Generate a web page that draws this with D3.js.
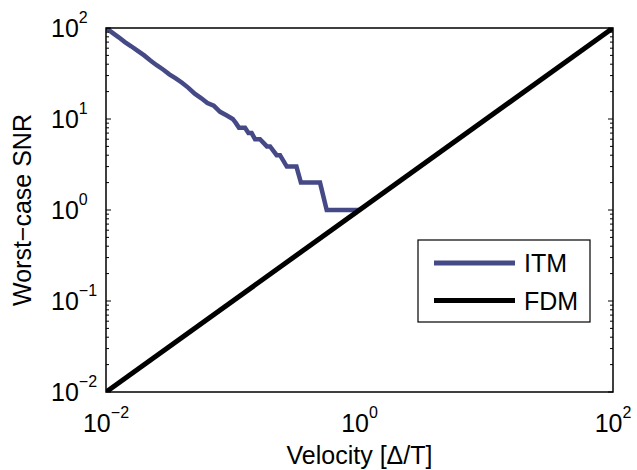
<!DOCTYPE html>
<html>
<head>
<meta charset="utf-8">
<script src="https://cdn.jsdelivr.net/npm/d3@7"></script>
<style>
  body { margin: 0; background: #fff; }
  svg { display: block; font-family: "Liberation Sans", Arial, Helvetica, sans-serif; }
</style>
</head>
<body>
<svg id="chart"></svg>
<script>
// ITM curve (staircase near 1)
const itmVelocity = [0.01, 0.0112, 0.0126, 0.0141, 0.0158, 0.0178, 0.02, 0.0224, 0.0251, 0.0282,
  0.0316, 0.0355, 0.0398, 0.0447, 0.0501, 0.0562, 0.0631, 0.0708, 0.0794, 0.0891,
  0.1, 0.106, 0.112, 0.118, 0.125, 0.133, 0.141, 0.15, 0.158, 0.164,
  0.186, 0.197, 0.222, 0.236, 0.267, 0.29, 0.318, 0.345, 0.4, 0.45,
  0.488, 0.551, 0.7, 0.85, 1];
const itmSNR = [100, 89, 79, 70, 63, 56, 50, 44, 39, 35,
  31, 28, 25, 22, 19, 17, 15, 14, 12, 11,
  10, 9, 8, 8, 8, 7, 7, 6, 6, 6,
  5, 5, 4, 4, 3, 3, 3, 2, 2, 2,
  2, 1, 1, 1, 1];

// FDM is a straight line on log-log
const fdmVelocity = [0.01, 100];
const fdmSNR = [0.01, 100];

const xTicks = [0.01, 1, 100];
const xTickExp = ['\u22122', '0', '2'];
const yTicks = [0.01, 0.1, 1, 10, 100];
const yTickExp = ['\u22122', '\u22121', '0', '1', '2'];

const seriesNames = ['ITM', 'FDM'];
const seriesColors = ['#454a87', '#000000'];

const width = 637, height = 470;
const margin = { top: 28, right: 24, bottom: 78, left: 106 };
const chartWidth = width - margin.left - margin.right;
const chartHeight = height - margin.top - margin.bottom;

const svg = d3.select('#chart')
  .attr('width', width)
  .attr('height', height);

const x = d3.scaleLog().domain([0.01, 100]).range([0, chartWidth]);
const y = d3.scaleLog().domain([0.01, 100]).range([chartHeight, 0]);

const g = svg.append('g')
  .attr('transform', `translate(${margin.left},${margin.top})`);

g.append('clipPath').attr('id', 'clip')
  .append('rect').attr('width', chartWidth).attr('height', chartHeight);

const line = d3.line()
  .x(d => x(d[0]))
  .y(d => y(d[1]));

const plot = g.append('g').attr('clip-path', 'url(#clip)');

plot.append('path')
  .datum(itmVelocity.map((v, i) => [v, itmSNR[i]]))
  .attr('fill', 'none')
  .attr('stroke', seriesColors[0])
  .attr('stroke-width', 4.5)
  .attr('stroke-linejoin', 'miter')
  .attr('d', line);

plot.append('path')
  .datum(fdmVelocity.map((v, i) => [v, fdmSNR[i]]))
  .attr('fill', 'none')
  .attr('stroke', seriesColors[1])
  .attr('stroke-width', 5)
  .attr('d', line);

// y ticks, inward on both sides
const majorY = new Set(yTicks);
y.ticks().forEach(t => {
  const len = majorY.has(t) ? 5 : 3;
  g.append('line')
    .attr('x1', 0).attr('x2', len)
    .attr('y1', y(t)).attr('y2', y(t))
    .attr('stroke', '#000').attr('stroke-width', 1);
  g.append('line')
    .attr('x1', chartWidth - len).attr('x2', chartWidth)
    .attr('y1', y(t)).attr('y2', y(t))
    .attr('stroke', '#000').attr('stroke-width', 1);
});

// box
g.append('rect')
  .attr('width', chartWidth).attr('height', chartHeight)
  .attr('fill', 'none').attr('stroke', '#000').attr('stroke-width', 1.5);

// x tick labels
xTicks.forEach((t, i) => {
  const txt = g.append('text')
    .attr('x', x(t))
    .attr('y', chartHeight + 40)
    .attr('text-anchor', 'middle')
    .style('font-size', '25px');
  txt.append('tspan').text('10');
  txt.append('tspan').attr('dy', -14).style('font-size', '16px').text(xTickExp[i]);
});

// y tick labels
yTicks.forEach((t, i) => {
  const txt = g.append('text')
    .attr('x', -55)
    .attr('y', y(t) + 9)
    .attr('text-anchor', 'start')
    .style('font-size', '25px');
  txt.append('tspan').text('10');
  txt.append('tspan').attr('dy', -14).style('font-size', '16px').text(yTickExp[i]);
});

// axis labels
svg.append('text')
  .attr('x', margin.left + chartWidth / 2)
  .attr('y', 464)
  .attr('text-anchor', 'middle')
  .style('font-size', '25px')
  .text('Velocity [\u0394/T]');

svg.append('text')
  .attr('transform', `translate(31,${margin.top + chartHeight / 2}) rotate(-90)`)
  .attr('text-anchor', 'middle')
  .style('font-size', '25px')
  .text('Worst\u2212case SNR');

// legend
const legend = svg.append('g').attr('transform', 'translate(418,240)');
legend.append('rect')
  .attr('width', 172).attr('height', 82)
  .attr('fill', '#fff').attr('stroke', '#000').attr('stroke-width', 1.2);

seriesNames.forEach((name, i) => {
  const ly = 23 + i * 37.5;
  legend.append('line')
    .attr('x1', 16).attr('x2', 97)
    .attr('y1', ly).attr('y2', ly)
    .attr('stroke', seriesColors[i])
    .attr('stroke-width', 5);
  legend.append('text')
    .attr('x', 106)
    .attr('y', ly + 9)
    .style('font-size', '25px')
    .text(name);
});
</script>
</body>
</html>
